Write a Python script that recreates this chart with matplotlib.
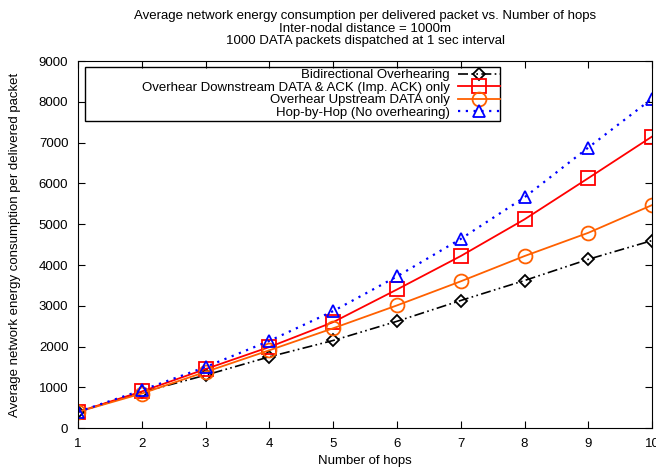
import matplotlib
matplotlib.use("Agg")
import matplotlib.pyplot as plt
from matplotlib.patches import Rectangle

plt.rcParams["font.family"] = ["Liberation Sans", "DejaVu Sans"]

hops = [1, 2, 3, 4, 5, 6, 7, 8, 9, 10]
bidirectional = [400, 880, 1300, 1750, 2150, 2620, 3130, 3620, 4140, 4600]
downstream = [400, 900, 1450, 1990, 2600, 3400, 4220, 5120, 6130, 7150]
upstream = [400, 850, 1380, 1910, 2450, 3010, 3600, 4220, 4790, 5470]
hop_by_hop = [400, 930, 1500, 2140, 2870, 3720, 4640, 5660, 6880, 8080]

fig = plt.figure(figsize=(6.56, 4.7), dpi=100)
ax = fig.add_axes([0.119, 0.089, 0.875, 0.781])

ax.plot(hops, bidirectional, color="black", linestyle=(0, (6, 2, 1, 2, 1, 2)), lw=1.2,
        marker="D", markersize=6.5, mfc="none", mew=1.3, label="Bidirectional Overhearing")
ax.plot(hops, downstream, color="#ff0000", linestyle="-", lw=1.3,
        marker="s", markersize=10, mfc="none", mew=1.3,
        label="Overhear Downstream DATA & ACK (Imp. ACK) only")
ax.plot(hops, upstream, color="#ff6000", linestyle="-", lw=1.3,
        marker="o", markersize=10, mfc="none", mew=1.3, label="Overhear Upstream DATA only")
ax.plot(hops, hop_by_hop, color="#0000ff", linestyle=(0, (1, 2.5)), lw=1.6,
        marker="^", markersize=9, mfc="none", mew=1.3, label="Hop-by-Hop (No overhearing)")

ax.set_xlim(1, 10)
ax.set_ylim(0, 9000)
ax.set_xticks(hops)
ax.set_yticks(range(0, 9001, 1000))
ax.tick_params(direction="in", top=True, right=True, labelsize=9.5, length=5)
ax.tick_params(axis="x", pad=7)
ax.tick_params(axis="y", pad=7)

ax.set_xlabel("Number of hops", fontsize=9.5)
ax.set_ylabel("Average network energy consumption per delivered packet", fontsize=9.5,
              labelpad=13)
ax.set_title("Average network energy consumption per delivered packet vs. Number of hops\n"
             "Inter-nodal distance = 1000m\n"
             "1000 DATA packets dispatched at 1 sec interval", fontsize=9.5,
             linespacing=1.1, pad=12)

# gnuplot-style key: text right aligned, sample on the right, wide box
ax.add_patch(Rectangle((0.0122, 0.8365), 0.723, 0.1472, transform=ax.transAxes,
                       fill=False, edgecolor="black", lw=1.0, zorder=4))
leg = ax.legend(loc="upper right", bbox_to_anchor=(0.737, 0.982), markerfirst=False,
                fontsize=9.5, frameon=False, borderpad=0.1,
                labelspacing=0.02, handlelength=3.2, handletextpad=0.6, borderaxespad=0)
for t in leg.get_texts():
    t.set_ha("right")
leg._legend_box.align = "right"

fig.savefig("out.png", dpi=100)
